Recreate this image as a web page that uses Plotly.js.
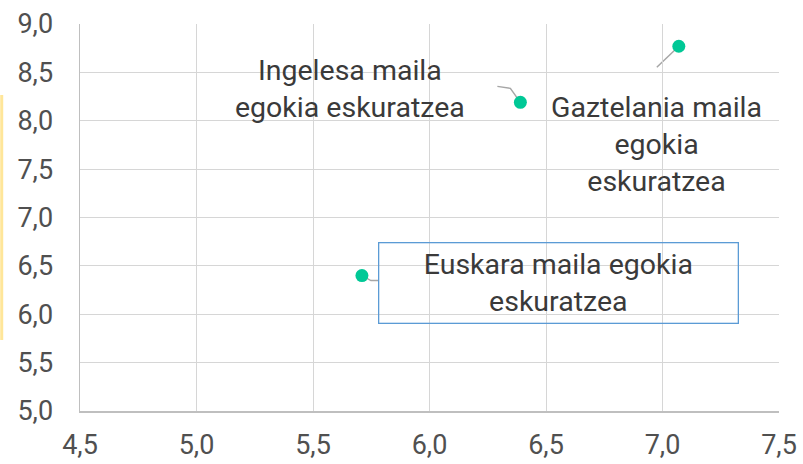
<!DOCTYPE html>
<html>
<head>
<meta charset="utf-8">
<script src="https://cdn.plot.ly/plotly-3.0.1.min.js"></script>
<style>
html,body{margin:0;padding:0;background:#fff;}
#chart{width:803px;height:464px;}
</style>
</head>
<body>
<div id="chart"></div>
<script>
// Data
var labels = ["Gaztelania maila<br>egokia<br>eskuratzea", "Ingelesa maila<br>egokia eskuratzea", "Euskara maila egokia<br>eskuratzea"];
var xValues = [7.07, 6.39, 5.71];
var yValues = [8.77, 8.19, 6.40];
var xTicks = [4.5, 5.0, 5.5, 6.0, 6.5, 7.0, 7.5];
var xTickText = ["4,5", "5,0", "5,5", "6,0", "6,5", "7,0", "7,5"];
var yTicks = [5.0, 5.5, 6.0, 6.5, 7.0, 7.5, 8.0, 8.5, 9.0];
var yTickText = ["5,0", "5,5", "6,0", "6,5", "7,0", "7,5", "8,0", "8,5", "9,0"];

var FONT = "Roboto, 'DejaVu Sans', sans-serif";
var TEXT = "#3A3A3A";
var TICK = "#505050";

// label placement (pixel offsets relative to each point)
var labelShift = [[-22, -98], [-170, 13], [197, -7]];
// leader line paths (pixels relative to each point, y up)
var leaderPaths = [
  "M0,0 L-22,-21",
  "M0,0 L-10,14 L-23,16",
  "M0,0 L9,-5 L17,-5"
];

var trace = {
  type: "scatter",
  mode: "markers",
  x: xValues,
  y: yValues,
  marker: {color: "#00C896", size: 13},
  hoverinfo: "skip",
  showlegend: false
};

var annotations = labels.map(function(t, i) {
  var a = {
    x: xValues[i], y: yValues[i], xref: "x", yref: "y",
    text: t, showarrow: false,
    xshift: labelShift[i][0], yshift: labelShift[i][1],
    font: {family: FONT, size: 28.5, color: TEXT},
    align: "center", xanchor: "center", yanchor: "middle"
  };
  if (i === 2) {
    a.bordercolor = "#5B9BD5";
    a.borderwidth = 1.3;
    a.width = 356;
    a.height = 77;
    a.borderpad = 1;
    a.bgcolor = "rgba(255,255,255,0)";
  }
  return a;
});

var shapes = leaderPaths.map(function(p, i) {
  return {
    type: "path", path: p,
    xref: "x", yref: "y",
    xsizemode: "pixel", ysizemode: "pixel",
    xanchor: xValues[i], yanchor: yValues[i],
    line: {color: "#A6A6A6", width: 1.5},
    layer: "below"
  };
});
shapes.push({
  type: "line", xref: "paper", yref: "paper",
  x0: -0.112, x1: -0.112, y0: 0.1835, y1: 0.8165,
  line: {color: "#FFE699", width: 3}
});

var layout = {
  width: 803, height: 464,
  margin: {l: 80, r: 24, t: 24, b: 53},
  paper_bgcolor: "#fff", plot_bgcolor: "#fff",
  font: {family: FONT, color: TICK},
  xaxis: {
    range: [4.5, 7.5], tickvals: xTicks, ticktext: xTickText,
    showgrid: true, gridcolor: "#D6D6D6", gridwidth: 1,
    zeroline: false, showline: true, linecolor: "#BFBFBF", linewidth: 1.5,
    ticks: "", ticklabelstandoff: 9,
    tickfont: {family: FONT, size: 27, color: TICK},
    fixedrange: true
  },
  yaxis: {
    range: [5, 9], tickvals: yTicks, ticktext: yTickText,
    showgrid: true, gridcolor: "#D6D6D6", gridwidth: 1,
    zeroline: false, showline: true, linecolor: "#BFBFBF", linewidth: 1.5,
    ticks: "", ticklabelstandoff: 20,
    tickfont: {family: FONT, size: 27, color: TICK},
    fixedrange: true
  },
  annotations: annotations,
  shapes: shapes
};

Plotly.newPlot("chart", [trace], layout, {displayModeBar: false, staticPlot: true});
</script>
</body>
</html>
